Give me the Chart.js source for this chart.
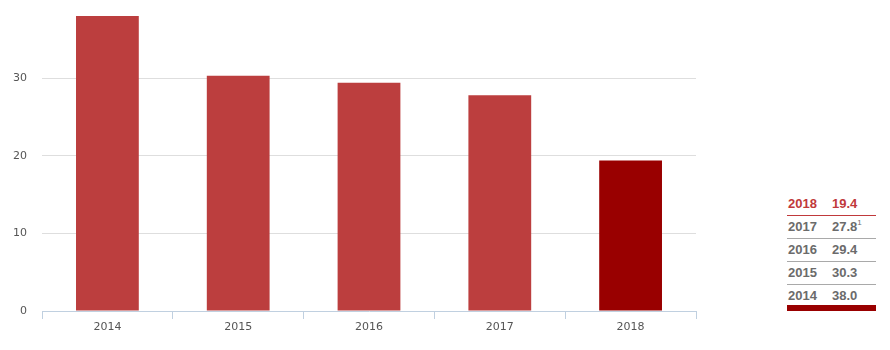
<!DOCTYPE html>
<html><head><meta charset="utf-8">
<script src="https://cdn.jsdelivr.net/npm/chart.js@4"></script>
<style>
html,body{margin:0;padding:0;background:#fff;overflow:hidden;}
#wrap{position:absolute;left:0;top:-21px;width:710px;height:372px;}
#tbl{position:absolute;left:787px;top:193px;width:89px;font-family:"Liberation Sans",Arial,sans-serif;font-weight:bold;font-size:13px;color:#6b6b6b;}
.row{height:22px;line-height:22px;border-bottom:1px solid #a9a9a9;position:relative;}
.row.first{color:#c0393b;border-bottom:1px solid #c0393b;}
.row span.y{position:absolute;left:1px;}
.row span.v{position:absolute;left:45px;}
sup{font-size:8px;font-weight:normal;vertical-align:top;line-height:14px;}
#bar{position:absolute;left:787px;top:305px;width:89px;height:6px;background:#990000;}
</style></head>
<body>
<div id="wrap"><canvas id="c"></canvas></div>
<div id="tbl"></div>
<div id="bar"></div>
<script>
const categories = ['2014','2015','2016','2017','2018'];
const values = [38.0, 30.3, 29.4, 27.8, 19.4];
const yTicks = [0,10,20,30,40];
const tableYears = ['2018','2017','2016','2015','2014'];
const tableValues = ['19.4','27.8','29.4','30.3','38.0'];
const tableNotes = ['','1','','',''];

const tbl = document.getElementById('tbl');
tableYears.forEach((y,i)=>{
  const d=document.createElement('div');
  d.className='row'+(i===0?' first':'');
  d.innerHTML='<span class="y">'+y+'</span><span class="v">'+tableValues[i]+(tableNotes[i]?'<sup>'+tableNotes[i]+'</sup>':'')+'</span>';
  if(i===tableYears.length-1) d.style.borderBottom='none';
  tbl.appendChild(d);
});

new Chart(document.getElementById('c'),{
  type:'bar',
  data:{labels:categories,datasets:[{data:values,
    backgroundColor:categories.map((c,i)=>i===categories.length-1?'#990000':'#bc3e3e'),
    barPercentage:0.48,categoryPercentage:1.0,borderWidth:0}]},
  options:{
    responsive:true,maintainAspectRatio:false,animation:false,
    layout:{padding:{left:0,right:14,top:0,bottom:0}},
    plugins:{legend:{display:false},tooltip:{enabled:false}},
    scales:{
      x:{
        afterFit:s=>{s.height=40;},
        border:{display:true,color:'#c0d0e0',width:1},
        grid:{display:true,drawOnChartArea:false,offset:true,tickLength:8,color:'#c0d0e0'},
        ticks:{color:'#555555',padding:2,font:{family:'"DejaVu Sans"',size:11}}
      },
      y:{
        min:0,max:40,
        afterFit:s=>{s.width=42;},
        afterBuildTicks:s=>{s.ticks=yTicks.map(v=>({value:v}));},
        border:{display:false},
        grid:{drawTicks:false,color:c=>(c.tick&&(c.tick.value===0||c.tick.value===40))?'rgba(0,0,0,0)':'#dedede'},
        ticks:{padding:15,color:'#555555',font:{family:'"DejaVu Sans"',size:11},
          callback:(v)=>v===40?'':v}
      }
    }
  }
});
</script>
</body></html>
